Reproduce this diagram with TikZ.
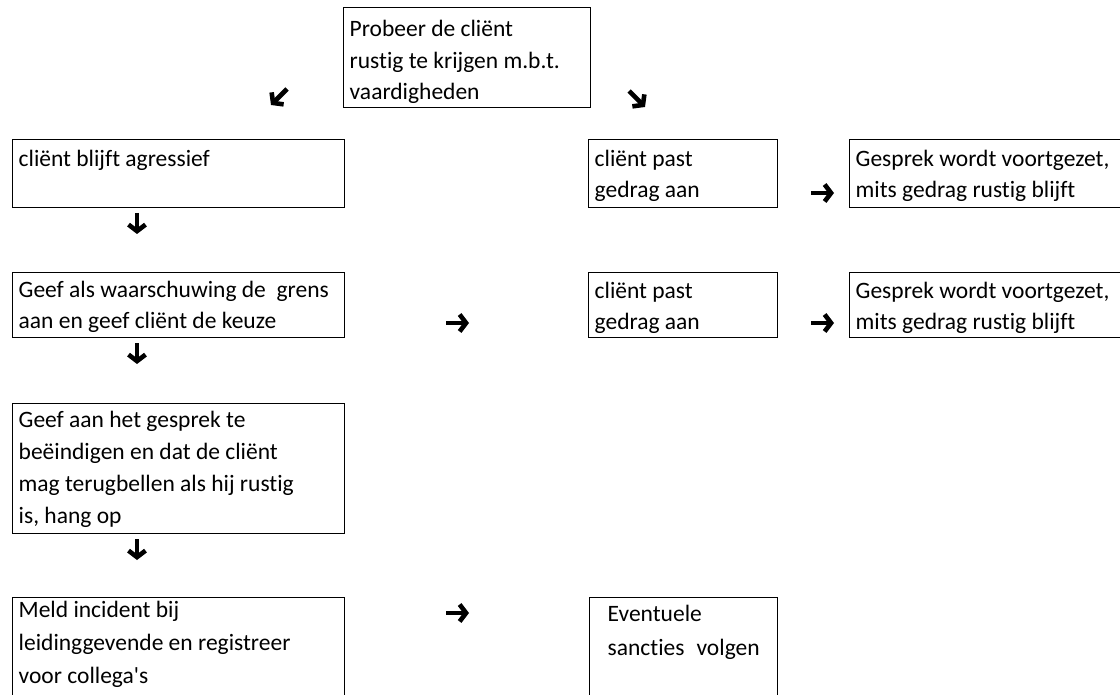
\documentclass[tikz,border=0pt]{standalone}
\usepackage{fontspec}
\setmainfont{Carlito}[Ligatures={TeXOff,CommonOff}]
\usetikzlibrary{arrows.meta}
\newcommand\bx[5]{\parbox[c][#2][t]{#1}{\fontsize{23.5}{#4}\selectfont\raggedright\rule{0pt}{#3}#5}}
\begin{document}
\begin{tikzpicture}[x=1pt,y=-1pt,
  box/.style={draw, line width=1.4pt, anchor=north west, inner xsep=6pt, inner ysep=0pt},
  glyph/.style={line width=4.6pt, -{Straight Barb[length=6.5pt,width=17pt]}}]
\useasboundingbox (0,0) rectangle (1120,695);
\clip (0,0) rectangle (1120,695);
% boxes
\node[box] (top) at (343,7) {\bx{235pt}{100pt}{29pt}{31.5pt}{Probeer de cliënt\\rustig te krijgen m.b.t.\\vaardigheden}};
\node[box] (agr) at (12,139) {\bx{320pt}{68pt}{27pt}{31.5pt}{cliënt blijft agressief}};
\node[box] (pastA) at (588,139) {\bx{177pt}{68pt}{27pt}{31pt}{cliënt past\\gedrag aan}};
\node[box] (gesA) at (849,139) {\bx{288pt}{68pt}{27pt}{31pt}{Gesprek wordt voortgezet,\\mits gedrag rustig blijft}};
\node[box] (warn) at (12,272) {\bx{320pt}{65pt}{25pt}{31pt}{Geef als waarschuwing de~ grens\\aan en geef cliënt de keuze}};
\node[box] (pastB) at (588,272) {\bx{177pt}{65pt}{26pt}{31pt}{cliënt past\\gedrag aan}};
\node[box] (gesB) at (849,272) {\bx{288pt}{65pt}{26pt}{31pt}{Gesprek wordt voortgezet,\\mits gedrag rustig blijft}};
\node[box] (end) at (12,403) {\bx{320pt}{130pt}{24pt}{32pt}{Geef aan het gesprek te\\beëindigen en dat de cliënt\\mag terugbellen als hij rustig\\is, hang op}};
\node[box] (meld) at (12,597) {\bx{320pt}{120pt}{20pt}{33pt}{Meld incident bij\\leidinggevende en registreer\\voor collega's}};
\node[box] (sanc) at (589,597) {\bx{176pt}{120pt}{24pt}{34pt}{\hspace*{12pt}Eventuele\\\hspace*{12pt}sancties\hspace{12pt}volgen}};
% arrow glyphs
\coordinate (dl1) at (287,89);  \coordinate (dl2) at (271,105);
\coordinate (dr1) at (629,91);  \coordinate (dr2) at (645,107);
\coordinate (d11) at (137,213); \coordinate (d12) at (137,234);
\coordinate (d21) at (137,343); \coordinate (d22) at (137,364);
\coordinate (d31) at (137,539); \coordinate (d32) at (137,560);
\coordinate (r11) at (811,193); \coordinate (r12) at (834,193);
\coordinate (r21) at (446,323); \coordinate (r22) at (469,323);
\coordinate (r31) at (811,323); \coordinate (r32) at (834,323);
\coordinate (r41) at (446,613); \coordinate (r42) at (469,613);
\draw[glyph] (dl1) -- (dl2);
\draw[glyph] (dr1) -- (dr2);
\draw[glyph] (d11) -- (d12);
\draw[glyph] (d21) -- (d22);
\draw[glyph] (d31) -- (d32);
\draw[glyph] (r11) -- (r12);
\draw[glyph] (r21) -- (r22);
\draw[glyph] (r31) -- (r32);
\draw[glyph] (r41) -- (r42);
\end{tikzpicture}
\end{document}
